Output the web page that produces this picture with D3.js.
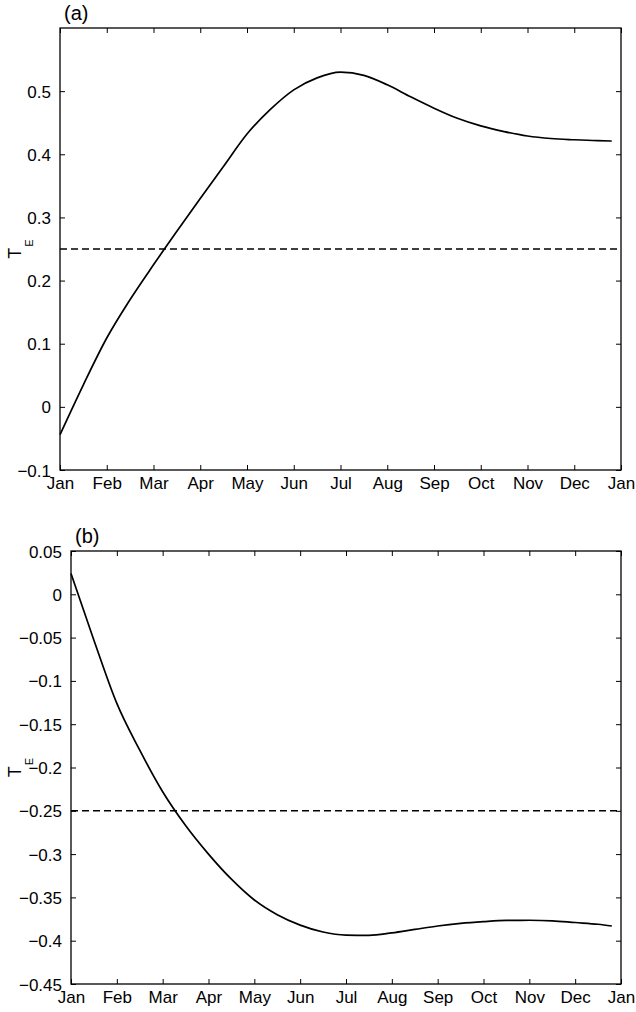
<!DOCTYPE html>
<html>
<head>
<meta charset="utf-8">
<script src="https://cdn.jsdelivr.net/npm/d3@7"></script>
<style>
  html, body { margin: 0; padding: 0; background: #fff; }
  svg { display: block; font-family: "Liberation Sans", Arial, Helvetica, sans-serif; }
</style>
</head>
<body>
<svg id="chart" width="636" height="1012"></svg>
<script>
// Month labels along the time axis (0 = Jan, 12 = following Jan)
const monthLabels = ["Jan", "Feb", "Mar", "Apr", "May", "Jun", "Jul", "Aug", "Sep", "Oct", "Nov", "Dec", "Jan"];

// Sample times in months since 1 Jan
const timeA = [0, 0.5, 1, 1.5, 2, 2.5, 3, 3.5, 4, 4.5, 5, 5.5, 6, 6.5, 7, 7.5, 8, 8.5, 9, 9.5, 10, 10.5, 11, 11.5, 11.8];
const timeB = [0, 0.5, 1, 1.5, 2, 2.5, 3, 3.5, 4, 4.5, 5, 5.5, 6, 6.5, 7, 7.5, 8, 8.5, 9, 9.5, 10, 10.5, 11, 11.5, 11.8];

// T_E for case (a)
const teA = [-0.044, 0.035, 0.109, 0.170, 0.225, 0.278, 0.330, 0.381, 0.432, 0.471, 0.502, 0.521, 0.530,
             0.525, 0.510, 0.491, 0.473, 0.457, 0.445, 0.436, 0.429, 0.425, 0.423, 0.4215, 0.421];
// T_E for case (b)
const teB = [0.024, -0.053, -0.126, -0.180, -0.228, -0.267, -0.300, -0.329, -0.353, -0.370, -0.382, -0.390, -0.3935,
             -0.3938, -0.391, -0.387, -0.383, -0.380, -0.378, -0.3766, -0.3764, -0.377, -0.379, -0.381, -0.383];

// Horizontal reference levels
const refA = 0.25;
const refB = -0.25;

// Y tick values
const yTicksA = [-0.1, 0, 0.1, 0.2, 0.3, 0.4, 0.5];
const yTicksB = [0.05, 0, -0.05, -0.1, -0.15, -0.2, -0.25, -0.3, -0.35, -0.4, -0.45];

const panels = [
  { tag: "(a)", time: timeA, values: teA, ref: refA, yDomain: [-0.1, 0.6], yTicks: yTicksA,
    box: { left: 60, right: 621, top: 28, bottom: 470 } },
  { tag: "(b)", time: timeB, values: teB, ref: refB, yDomain: [-0.45, 0.05], yTicks: yTicksB,
    box: { left: 71, right: 621, top: 551, bottom: 984 } }
];

const svg = d3.select("#chart");
const fontSize = 17;
const tickLen = 5;

function fmt(v) {
  const s = d3.format(".2~f")(Math.abs(v));
  return (v < 0 ? "\u2212" : "") + s;
}

panels.forEach(p => {
  const b = p.box;
  const x = d3.scaleLinear().domain([0, 12]).range([b.left, b.right]);
  const y = d3.scaleLinear().domain(p.yDomain).range([b.bottom, b.top]);
  const g = svg.append("g");

  // Curve
  const line = d3.line()
    .x((d, i) => x(p.time[i]))
    .y(d => y(d))
    .curve(d3.curveMonotoneX);
  g.append("path")
    .attr("d", line(p.values))
    .attr("fill", "none")
    .attr("stroke", "#000")
    .attr("stroke-width", 1.7)
    .attr("stroke-linejoin", "round");

  // Dashed reference level
  g.append("line")
    .attr("x1", x(0)).attr("x2", x(12))
    .attr("y1", y(p.ref)).attr("y2", y(p.ref))
    .attr("stroke", "#000")
    .attr("stroke-width", 1.5)
    .attr("stroke-dasharray", "7,4");

  // Bottom axis with month labels, ticks pointing inward
  const xAxis = d3.axisBottom(x)
    .tickValues(d3.range(0, 13))
    .tickFormat(i => monthLabels[i])
    .tickSizeInner(-tickLen).tickSizeOuter(0).tickPadding(tickLen + 14);
  const gx = g.append("g").attr("transform", `translate(0,${b.bottom})`).call(xAxis);

  // Top axis: ticks only
  const gxt = g.append("g").attr("transform", `translate(0,${b.top})`)
    .call(d3.axisTop(x).tickValues(d3.range(0, 13)).tickFormat("").tickSizeInner(-tickLen).tickSizeOuter(0));

  // Left axis with values
  const yAxis = d3.axisLeft(y)
    .tickValues(p.yTicks)
    .tickFormat(fmt)
    .tickSizeInner(-tickLen).tickSizeOuter(0).tickPadding(tickLen + 4);
  const gy = g.append("g").attr("transform", `translate(${b.left},0)`).call(yAxis);

  // Right axis: ticks only
  const gyr = g.append("g").attr("transform", `translate(${b.right},0)`)
    .call(d3.axisRight(y).tickValues(p.yTicks).tickFormat("").tickSizeInner(-tickLen).tickSizeOuter(0));

  [gx, gxt, gy, gyr].forEach(a => {
    a.select(".domain").remove();
    a.selectAll("line").attr("stroke", "#000").attr("stroke-width", 1);
    a.selectAll("text")
      .attr("fill", "#000")
      .style("font-size", fontSize + "px")
      .style("font-family", "'Liberation Sans', Arial, Helvetica, sans-serif");
  });
  gx.selectAll("text").attr("dy", null).attr("y", 19);
  gy.selectAll("text").attr("dy", null).attr("y", 6);

  // Frame
  g.append("rect")
    .attr("x", b.left).attr("y", b.top)
    .attr("width", b.right - b.left).attr("height", b.bottom - b.top)
    .attr("fill", "none").attr("stroke", "#000").attr("stroke-width", 1.3);

  // Panel tag
  g.append("text")
    .attr("x", b.left + 4).attr("y", b.top - 8)
    .style("font-size", "20px")
    .text(p.tag);

  // Y label T_E
  const cy = (b.top + b.bottom) / 2;
  const yl = g.append("text")
    .attr("transform", `translate(21,${cy}) rotate(-90)`)
    .attr("text-anchor", "middle")
    .style("font-size", "18px");
  yl.append("tspan").text("T");
  yl.append("tspan").attr("dx", 1).attr("dy", 12).style("font-size", "11px").text("E");
});
</script>
</body>
</html>
